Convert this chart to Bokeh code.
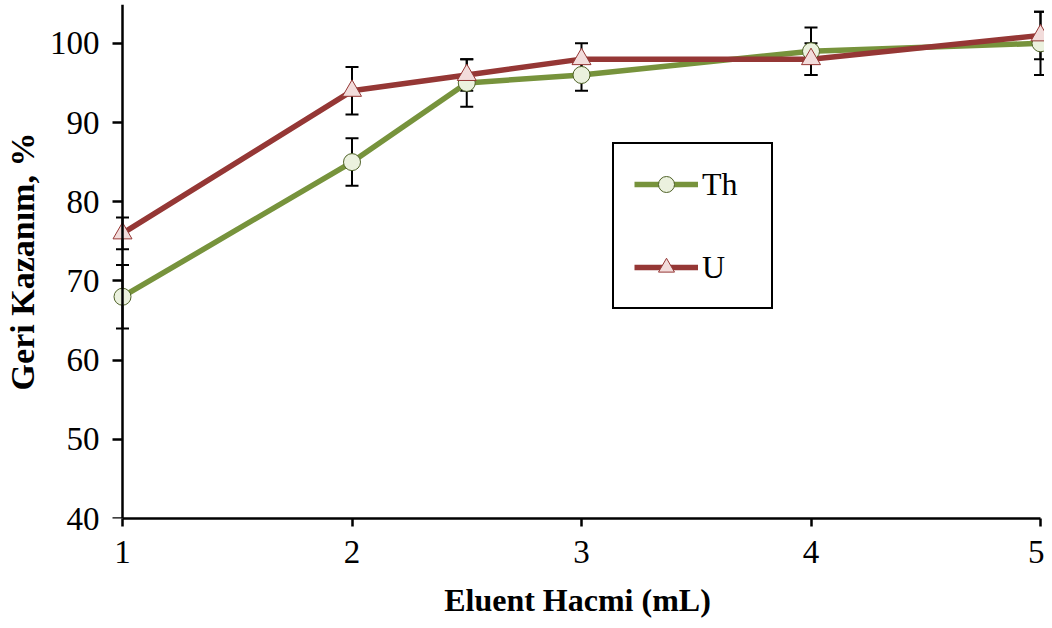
from bokeh.plotting import figure
from bokeh.layouts import row
from bokeh.models import (ColumnDataSource, Whisker, TeeHead, Legend, LegendItem,
                          Range1d)
from bokeh.embed import file_html
from bokeh.resources import INLINE

# ---- data ----
x_vals = [1, 2, 2.5, 3, 4, 5]
th_vals = [68, 85, 95, 96, 99, 100]
th_err = [4, 3, 3, 2, 3, 4]
u_vals = [76, 94, 96, 98, 98, 101]
u_err = [2, 3, 2, 2, 2, 3]
x_ticks = [1, 2, 3, 4, 5]
y_ticks = [40, 50, 60, 70, 80, 90, 100]
x_title = "Eluent Hacmi (mL)"
y_title = "Geri Kazanım, %"

GREEN = "#77933C"
RED = "#953735"
FONT = "Liberation Serif"

X_MIN, X_MAX = 1, 5
Y_MIN, Y_MAX = 40, 104.9
PAD_L = 0.0523   # small room so edge markers are not cut
PAD_R = 0.0174

H = 620
LEFT_W = 110
y_range = Range1d(Y_MIN, Y_MAX)

# ---------- left strip: y tick labels + y title ----------
pl = figure(width=LEFT_W, height=H, output_backend="svg", toolbar_location=None,
            x_range=Range1d(0, 1), y_range=y_range,
            min_border_left=LEFT_W - 2, min_border_right=0, min_border_top=4,
            min_border_bottom=99)
pl.outline_line_color = None
pl.xgrid.grid_line_color = None
pl.ygrid.grid_line_color = None
pl.xaxis.visible = False
pl.yaxis.ticker = y_ticks
pl.yaxis.axis_line_color = None
pl.yaxis.major_tick_line_color = None
pl.yaxis.minor_tick_line_color = None
pl.yaxis.major_tick_out = 0
pl.yaxis.major_tick_in = 0
pl.yaxis.major_label_standoff = 11
pl.yaxis.major_label_text_font = FONT
pl.yaxis.major_label_text_font_size = "33px"
pl.yaxis.major_label_text_color = "black"
pl.yaxis.axis_label = y_title
pl.yaxis.axis_label_standoff = 6
pl.yaxis.axis_label_text_font = FONT
pl.yaxis.axis_label_text_font_size = "34px"
pl.yaxis.axis_label_text_font_style = "bold"
pl.yaxis.axis_label_text_color = "black"

# ---------- main plot ----------
p = figure(width=1044 - LEFT_W, height=H, output_backend="svg", toolbar_location=None,
           x_range=Range1d(X_MIN - PAD_L, X_MAX + PAD_R), y_range=y_range,
           min_border_left=0, min_border_right=0, min_border_top=4,
           min_border_bottom=99)
p.outline_line_color = None
p.xgrid.grid_line_color = None
p.ygrid.grid_line_color = None
p.background_fill_color = "white"
p.border_fill_color = "white"

th_src = ColumnDataSource(dict(x=x_vals, y=th_vals,
                               lo=[v - e for v, e in zip(th_vals, th_err)],
                               hi=[v + e for v, e in zip(th_vals, th_err)]))
u_src = ColumnDataSource(dict(x=x_vals, y=u_vals,
                              lo=[v - e for v, e in zip(u_vals, u_err)],
                              hi=[v + e for v, e in zip(u_vals, u_err)]))

for src in (th_src, u_src):
    w = Whisker(source=src, base="x", upper="hi", lower="lo", dimension="height",
                line_color="black", line_width=2, level="underlay",
                upper_head=TeeHead(size=13, line_color="black", line_width=2),
                lower_head=TeeHead(size=13, line_color="black", line_width=2))
    p.add_layout(w)

th_line = p.line("x", "y", source=th_src, line_color=GREEN, line_width=5.5)
u_line = p.line("x", "y", source=u_src, line_color=RED, line_width=5.5)
th_sc = p.scatter("x", "y", source=th_src, marker="circle", size=17,
                  fill_color="#EBF1DE", line_color="#4F6228", line_width=1)
u_sc = p.scatter("x", "y", source=u_src, marker="triangle", size=19,
                 fill_color="#F2DCDB", line_color="#953735", line_width=1)

for ax in (p.xaxis[0], p.yaxis[0]):
    ax.axis_line_color = "black"
    ax.axis_line_width = 2.5
    ax.major_tick_line_color = "black"
    ax.major_tick_line_width = 2.5
    ax.minor_tick_line_color = None
    ax.major_tick_in = 0
    ax.major_label_text_font = FONT
    ax.major_label_text_font_size = "33px"
    ax.major_label_text_color = "black"

p.xaxis.ticker = x_ticks
p.xaxis.bounds = (X_MIN, X_MAX)
p.xaxis.major_tick_out = 8
p.xaxis.major_label_standoff = 14
p.xaxis.axis_label = x_title
p.xaxis.axis_label_standoff = 16
p.xaxis.axis_label_text_font = FONT
p.xaxis.axis_label_text_font_size = "32px"
p.xaxis.axis_label_text_font_style = "bold"
p.xaxis.axis_label_text_color = "black"

# axis line and ticks only (labels are drawn in the left strip)
p.yaxis.ticker = y_ticks
p.yaxis.fixed_location = X_MIN
p.yaxis.major_tick_out = 10
p.yaxis.major_label_standoff = 0
p.yaxis.major_label_overrides = {t: "" for t in y_ticks}

legend = Legend(items=[LegendItem(label="Th", renderers=[th_line, th_sc]),
                       LegendItem(label="U", renderers=[u_line, u_sc])],
                location=(502, 209))
legend.label_text_font = FONT
legend.label_text_font_size = "32px"
legend.label_text_color = "black"
legend.border_line_color = "black"
legend.border_line_alpha = 1
legend.border_line_width = 2.5
legend.background_fill_color = "white"
legend.background_fill_alpha = 1
legend.padding = 20
legend.margin = 0
legend.spacing = 43
legend.glyph_height = 40
legend.glyph_width = 64
legend.label_height = 40
legend.label_width = 49
legend.label_standoff = 4
p.add_layout(legend)

layout = row(pl, p)
open("out.html", "w").write(file_html(layout, INLINE))
